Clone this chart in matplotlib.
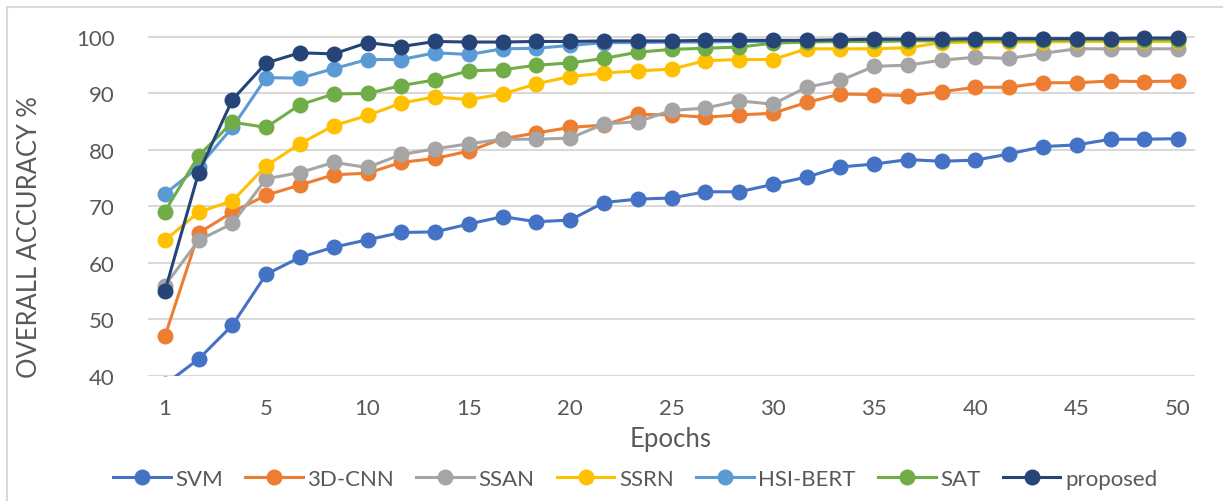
import matplotlib
matplotlib.use("Agg")
import matplotlib.pyplot as plt
from matplotlib.lines import Line2D

# ---- data ----
tick_positions = [0, 3, 6, 9, 12, 15, 18, 21, 24, 27, 30]
tick_labels = ["1", "5", "10", "15", "20", "25", "30", "35", "40", "45", "50"]

svm = [38.5, 43, 49, 58, 61, 62.8, 64.1, 65.4, 65.5, 66.9, 68.2, 67.3, 67.6, 70.7, 71.3, 71.5,
       72.6, 72.6, 73.9, 75.2, 77.0, 77.5, 78.3, 78.0, 78.2, 79.3, 80.6, 80.9, 81.9, 81.9, 82.0]
cnn3d = [47, 65.3, 69, 72, 73.8, 75.6, 75.9, 77.8, 78.5, 79.8, 82.0, 83.0, 84.0, 84.4, 86.3, 86.2,
         85.8, 86.2, 86.5, 88.4, 89.9, 89.8, 89.6, 90.3, 91.1, 91.1, 91.9, 91.9, 92.2, 92.1, 92.2]
ssan = [56, 64, 67, 74.9, 76, 77.8, 76.9, 79.2, 80.2, 81.1, 81.9, 81.9, 82.1, 84.6, 85.0, 87.0,
        87.4, 88.7, 88.1, 91.1, 92.3, 94.8, 95.0, 95.9, 96.4, 96.2, 97.1, 97.9, 97.9, 97.9, 97.9]
ssrn = [64, 69, 71, 77.2, 81.1, 84.3, 86.1, 88.3, 89.4, 88.9, 89.9, 91.7, 93.0, 93.6, 94.0, 94.3,
        95.8, 96.0, 96.0, 97.9, 97.9, 97.9, 98.1, 99.0, 99.1, 99.1, 99.1, 99.2, 99.2, 99.2, 99.2]
hsibert = [72.2, 77, 84, 92.8, 92.7, 94.4, 96.0, 96.0, 97.2, 96.9, 97.9, 98.0, 98.5, 99.0, 99.0, 99.1,
           99.1, 99.2, 99.2, 99.3, 99.3, 99.4, 99.4, 99.5, 99.5, 99.5, 99.6, 99.6, 99.6, 99.6, 99.6]
sat = [69.1, 79, 84.9, 84.0, 88.0, 89.9, 90.0, 91.4, 92.4, 94.0, 94.2, 95.0, 95.4, 96.2, 97.3, 97.8,
       98.0, 98.2, 98.9, 99.1, 99.2, 99.2, 99.3, 99.3, 99.4, 99.4, 99.4, 99.5, 99.5, 99.5, 99.5]
proposed = [55, 76, 88.9, 95.4, 97.2, 97.0, 99.0, 98.3, 99.2, 99.1, 99.1, 99.2, 99.2, 99.3, 99.3, 99.3,
            99.4, 99.4, 99.4, 99.4, 99.5, 99.6, 99.6, 99.6, 99.7, 99.7, 99.7, 99.7, 99.7, 99.8, 99.8]

series_names = ["SVM", "3D-CNN", "SSAN", "SSRN", "HSI-BERT", "SAT", "proposed"]
series_values = [svm, cnn3d, ssan, ssrn, hsibert, sat, proposed]
series_colors = ["#4472C4", "#ED7D31", "#A5A5A5", "#FFC000", "#5B9BD5", "#70AD47", "#264478"]

plt.rcParams['font.family'] = ['Lato', 'DejaVu Sans']
TXT = "#595959"

W, H = 1223, 502
fig = plt.figure(figsize=(W / 100, H / 100), dpi=100)
ax = fig.add_axes([148 / W, (H - 377) / H, (1195 - 148) / W, (377 - 8) / H])

for name, vals, col in zip(series_names, series_values, series_colors):
    ax.plot(range(len(vals)), vals, color=col, lw=2.2, marker='o', markersize=11.5,
            markeredgewidth=0, label=name, zorder=3)

ax.set_xlim(-0.5, 30.5)
ax.set_ylim(40, 105.3)
ax.set_yticks([40, 50, 60, 70, 80, 90, 100])
ax.set_xticks(tick_positions)
ax.set_xticklabels(tick_labels)
ax.yaxis.grid(True, color="#D9D9D9", lw=1.5, zorder=0)
ax.set_axisbelow(True)
for s in ax.spines.values():
    s.set_visible(False)
ax.tick_params(axis='both', length=0, labelsize=16, colors=TXT)
ax.tick_params(axis='y', pad=24)
ax.tick_params(axis='x', pad=16)

fig.text(671 / W, 1 - 440 / H, "Epochs", ha='center', va='center', fontsize=18.5, color=TXT)
fig.text(30 / W, 1 - 237 / H, "OVERALL ACCURACY %", ha='center', va='center', rotation=90,
         fontsize=18.4, color=TXT)

handles = [Line2D([0], [0], color=c, lw=2.2, marker='o', markersize=11.5, markeredgewidth=0)
           for c in series_colors]
fig.legend(handles, series_names, loc='center', bbox_to_anchor=(635 / W, 1 - 480 / H), ncol=7,
           frameon=False, fontsize=16, labelcolor=TXT, handlelength=2.6, handletextpad=0.2,
           columnspacing=1.0)

# chart-area border (top and left edges visible)
fig.add_artist(Line2D([7 / W, 7 / W], [0, 1 - 8 / H], transform=fig.transFigure, color="#D9D9D9", lw=1.5))
fig.add_artist(Line2D([7 / W, 1], [1 - 8 / H, 1 - 8 / H], transform=fig.transFigure, color="#D9D9D9", lw=1.5))

fig.savefig("out.png", dpi=100)
